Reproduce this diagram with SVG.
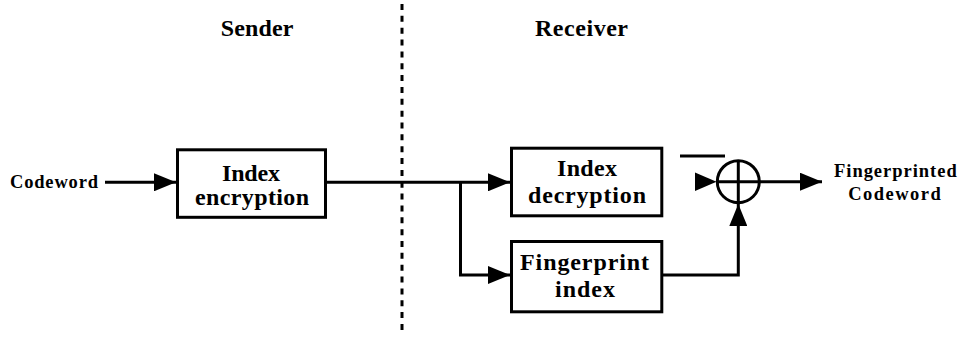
<svg xmlns="http://www.w3.org/2000/svg" width="961" height="342" viewBox="0 0 961 342">
  <style>
    text { font-family: "Liberation Serif", "Times New Roman", serif; font-weight: bold; fill: #000; }
    .head { font-size: 24px; }
    .lbl { font-size: 24px; }
    .io { font-size: 18.5px; }
    .box { fill: #fff; stroke: #000; stroke-width: 3; }
    .wire { fill: none; stroke: #000; stroke-width: 3; }
    .divider { fill: none; stroke: #000; stroke-width: 3; stroke-dasharray: 6 5.85; }
  </style>
  <defs>
    <marker id="arrow" markerUnits="userSpaceOnUse" markerWidth="22" markerHeight="18" refX="22" refY="9" orient="auto">
      <path d="M0,0 L22,9 L0,18 Z" fill="#000"/>
    </marker>
  </defs>

  <rect width="961" height="342" fill="#fff"/>

  <!-- sender / receiver boundary -->
  <line class="divider" x1="402" y1="4" x2="402" y2="332"/>
  <text class="head" x="220.7" y="35.5" textLength="72.6" lengthAdjust="spacing">Sender</text>
  <text class="head" x="535" y="35.5" textLength="93" lengthAdjust="spacing">Receiver</text>

  <!-- connectors -->
  <g id="connectors">
    <line class="wire" x1="105" y1="182.3" x2="176" y2="182.3" marker-end="url(#arrow)"/>
    <line class="wire" x1="326" y1="182.3" x2="510" y2="182.3" marker-end="url(#arrow)"/>
    <polyline class="wire" points="460.5,182.3 460.5,275 510,275" marker-end="url(#arrow)"/>
    <polyline class="wire" points="662,275 738.3,275 738.3,204" marker-end="url(#arrow)"/>
    <line class="wire" x1="760" y1="181.7" x2="822" y2="181.7" marker-end="url(#arrow)"/>
    <!-- free arrowhead into the adder and its bar -->
    <path d="M695,172.5 L716.5,181.7 L695,191 Z" fill="#000"/>
    <line class="wire" x1="680" y1="156" x2="725" y2="156"/>
  </g>

  <!-- input label -->
  <g id="input">
    <text class="io" x="10" y="187.7" textLength="88" lengthAdjust="spacing">Codeword</text>
  </g>

  <g id="index-encryption">
    <rect class="box" x="177.5" y="149.8" width="148" height="67.5"/>
    <text class="lbl" x="222" y="180.7" textLength="58" lengthAdjust="spacing">Index</text>
    <text class="lbl" x="195" y="205" textLength="114" lengthAdjust="spacing">encryption</text>
  </g>

  <g id="index-decryption">
    <rect class="box" x="511.5" y="148.2" width="150.3" height="67.6"/>
    <text class="lbl" x="557" y="176" textLength="60" lengthAdjust="spacing">Index</text>
    <text class="lbl" x="528" y="203.3" textLength="118" lengthAdjust="spacing">decryption</text>
  </g>

  <g id="fingerprint-index">
    <rect class="box" x="511.5" y="241.5" width="150.3" height="70.3"/>
    <text class="lbl" x="520" y="270" textLength="129" lengthAdjust="spacing">Fingerprint</text>
    <text class="lbl" x="555" y="296.7" textLength="60" lengthAdjust="spacing">index</text>
  </g>

  <g id="adder">
    <circle class="wire" cx="738.3" cy="181.7" r="21"/>
    <line class="wire" x1="717.3" y1="181.7" x2="759.3" y2="181.7"/>
    <line class="wire" x1="738.3" y1="160.7" x2="738.3" y2="202.7"/>
  </g>

  <g id="output">
    <text class="io" x="834" y="176.7" textLength="122.7" lengthAdjust="spacing">Fingerprinted</text>
    <text class="io" x="848.3" y="200" textLength="92.4" lengthAdjust="spacing">Codeword</text>
  </g>
</svg>
